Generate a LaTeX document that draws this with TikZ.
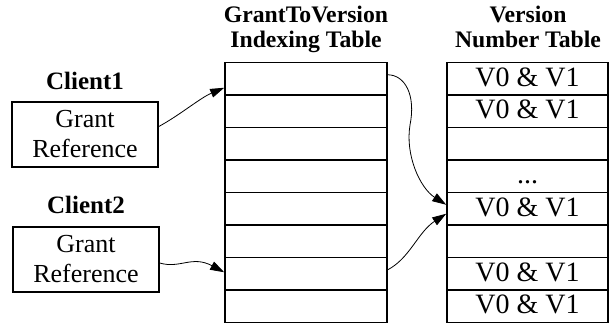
\documentclass[tikz,border=0pt]{standalone}
\usepackage{fontspec}
\setmainfont{Liberation Serif}
\usetikzlibrary{arrows.meta}
\newcommand\vpair{V0 \& V1}
\newcommand\skipdots{...}
\begin{document}
\begin{tikzpicture}[x=1pt,y=-1pt,
  cell/.style={draw, line width=1.6pt, minimum height=32.5pt, inner sep=0pt,
    text height=20pt, text depth=5.5pt, font=\fontsize{28}{30}\selectfont},
  refbox/.style={draw, line width=1.6pt, minimum width=146pt, minimum height=65pt,
    inner sep=0pt, align=center, font=\fontsize{26}{30}\selectfont},
  head/.style={align=center, font=\bfseries\fontsize{23.7}{25}\selectfont},
  client/.style={anchor=base, font=\bfseries\fontsize{25}{26}\selectfont},
  link/.style={line width=0.8pt, -{Triangle[length=14pt,width=9pt]}}]
\useasboundingbox (0,0) rectangle (609,325);

% headings (base anchor sits on the last line)
\node[head, anchor=base] (h1) at (306,47) {GrantToVersion\\Indexing Table};
\node[head, anchor=base] (h2) at (528,47) {Version\\Number Table};

% clients and their grant references
\node[client] (c1) at (85,89) {Client1};
\node[refbox] (b1) at (85,134.5) {Grant\\Reference};
\node[client] (c2) at (86,213) {Client2};
\node[refbox] (b2) at (86,259.5) {Grant\\Reference};

% GrantToVersion indexing table
\foreach \i in {1,...,8}
  \node[cell, minimum width=162pt] (m\i) at (306,{62.5+32.5*(\i-0.5)}) {};

% version number table
\foreach \i/\t in {1/\vpair, 2/\vpair, 3/{}, 4/\skipdots, 5/\vpair, 6/{}, 7/\vpair, 8/\vpair}
  \node[cell, minimum width=161pt] (v\i) at (527.5,{62.5+32.5*(\i-0.5)}) {\t};

% references into the indexing table
\draw[link] ([yshift=8pt]b1.east) .. controls (180,115) and (200,98) .. ([yshift=-9pt]m1.west);
\draw[link] ([yshift=-3.5pt]b2.east) .. controls (180,269) and (192,255) .. ([yshift=1.5pt]m7.west);

% index entries pointing to a shared version entry
\draw[link] ([yshift=4pt]m1.east) .. controls (405,75) and (416,95) .. (410,125)
  .. controls (405,155) and (420,188) .. ([yshift=4pt]v5.west);
\draw[link] ([yshift=4pt]m7.east) .. controls (410,258) and (418,232) .. ([yshift=-5pt]v5.west);
\end{tikzpicture}
\end{document}
